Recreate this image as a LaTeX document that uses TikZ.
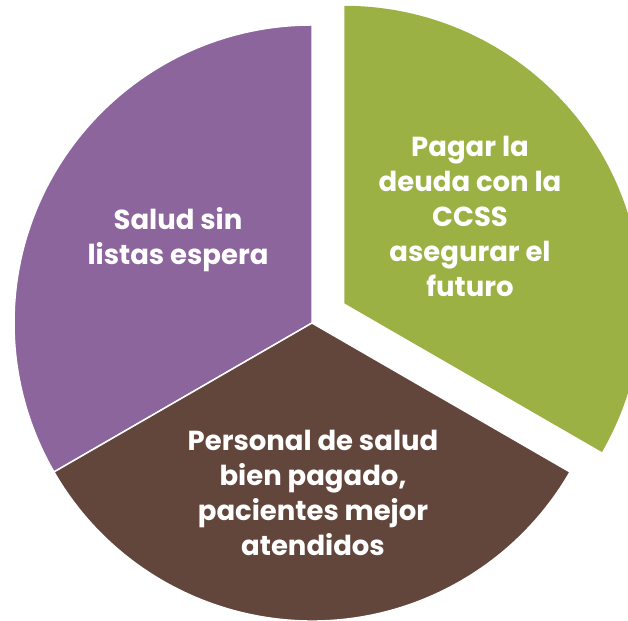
\documentclass[tikz,border=0pt]{standalone}
\usepackage{fontspec}
\setmainfont{Poppins}
\definecolor{piepurple}{HTML}{8C659C}
\definecolor{piebrown}{HTML}{62463B}
\definecolor{piegreen}{HTML}{9BB143}
\begin{document}
\begin{tikzpicture}[x=1pt,y=1pt,
  slice/.style={draw=white,line width=1.5pt,line join=miter},
  label/.style={text=white,align=center,font=\fontsize{27.5}{35}\selectfont\bfseries}]
\useasboundingbox (0,0) rectangle (628,620);
\clip (0,0) rectangle (628,620);
\coordinate (c) at (312,297);
\coordinate (g) at (344.3,316.7);
\fill[piepurple,slice] (c) -- ++(90:298) arc[start angle=90,end angle=210,radius=298] -- cycle;
\fill[piebrown,slice] (c) -- ++(210:298) arc[start angle=210,end angle=330,radius=298] -- cycle;
\fill[piegreen] (g) -- ++(-30:297.5) arc[start angle=-30,end angle=90,radius=297.5] -- cycle;
\node[label] (t1) at (470,404) {Pagar la\\deuda con la\\CCSS\\asegurar el\\futuro};
\node[label] (t2) at (313,127) {Personal de salud\\bien pagado,\\pacientes mejor\\atendidos};
\node[label] (t3) at (178,380) {Salud sin\\listas espera};
\end{tikzpicture}
\end{document}
